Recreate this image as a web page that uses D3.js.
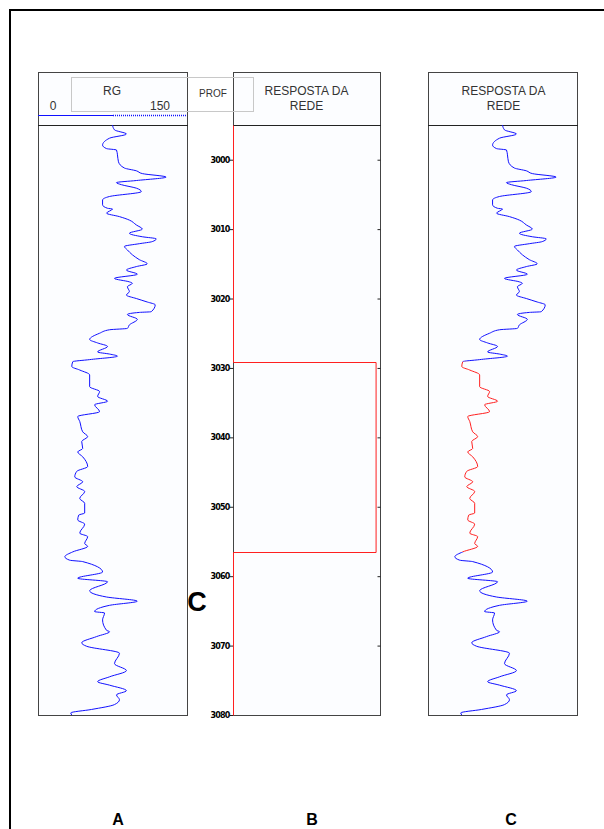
<!DOCTYPE html>
<html>
<head>
<meta charset="utf-8">
<script src="https://cdn.jsdelivr.net/npm/d3@7"></script>
<style>
  body { margin: 0; background: #fff; }
  svg { display: block; }
</style>
</head>
<body>
<svg id="chart" width="604" height="829"></svg>
<script>
// depth ticks (m)
const depthTicks = [3000, 3010, 3020, 3030, 3040, 3050, 3060, 3070, 3080];

const grDepth = [2995.0, 2995.7, 2996.3, 2996.9, 2997.9, 2998.4, 2998.6, 2999.3, 3000.3, 3001.2,
  3001.6, 3002.0, 3002.5, 3003.0, 3003.3, 3003.6, 3004.1, 3004.6, 3005.3, 3005.8,
  3006.5, 3007.0, 3007.1, 3007.7, 3008.2, 3008.7, 3009.4, 3010.0, 3010.6, 3011.1,
  3011.4, 3011.8, 3012.1, 3012.5, 3013.0, 3013.7, 3014.4, 3015.0, 3015.4, 3015.9,
  3016.5, 3017.1, 3017.6, 3017.8, 3018.3, 3019.0, 3019.5, 3020.0, 3020.5, 3020.9,
  3021.9, 3022.0, 3022.3, 3023.0, 3023.8, 3024.3, 3024.5, 3025.0, 3025.9, 3026.4,
  3026.9, 3027.7, 3028.0, 3028.3, 3028.8, 3029.1, 3029.8, 3030.3, 3031.0, 3032.7,
  3033.4, 3034.1, 3034.8, 3035.3, 3036.3, 3037.0, 3037.7, 3039.2, 3039.9, 3040.6,
  3041.6, 3042.1, 3042.8, 3044.2, 3044.9, 3045.7, 3046.4, 3047.1, 3047.8, 3048.8,
  3049.5, 3050.9, 3051.2, 3051.9, 3052.5, 3053.8, 3054.3, 3055.3, 3055.7, 3056.5,
  3057.2, 3057.7, 3057.9, 3059.4, 3060.3, 3060.8, 3062.1, 3063.0, 3063.6, 3064.2,
  3065.1, 3065.3, 3066.3, 3067.8, 3068.0, 3068.7, 3069.6, 3070.1, 3071.1, 3072.6,
  3073.6, 3074.5, 3075.2, 3075.7, 3076.5, 3077.1, 3077.8, 3078.5, 3079.2, 3079.7,
  3080.0];
const grValues = [75, 77, 89, 72, 65, 69, 79, 80, 81, 87,
  99, 105, 129, 99, 79, 84, 99, 104, 72, 65,
  65, 70, 75, 69, 82, 92, 99, 105, 92, 105,
  119, 115, 102, 87, 90, 95, 102, 110, 99, 89,
  100, 77, 92, 95, 90, 92, 89, 99, 110, 118,
  114, 102, 90, 100, 92, 90, 72, 62, 52, 60,
  70, 60, 72, 80, 52, 35, 34, 42, 52, 52,
  62, 60, 70, 57, 62, 40, 42, 45, 50, 44,
  45, 40, 45, 50, 39, 37, 45, 39, 47, 42,
  47, 47, 41, 40, 47, 42, 50, 47, 50, 35,
  27, 32, 45, 65, 40, 70, 52, 69, 100, 72,
  57, 67, 65, 69, 72, 59, 44, 49, 82, 77,
  89, 72, 60, 72, 89, 79, 82, 77, 54, 33,
  34];

// network response (track B), step values
const respDepth = [2995, 3029.1, 3056.5, 3080];
const respValues = [0, 0.97, 0, 0];

// zone flagged by the network
const zoneTop = 3029.1;
const zoneBottom = 3056.5;

function getConfig() {
  let svg = d3.select("#chart");
  let top = 72, head = 125, bottom = 715;
  let y = d3.scaleLinear().domain([2995, 3080]).range([head, bottom]);
  let tracks = {
    A: {x0: 38, x1: 187},
    B: {x0: 233, x1: 380},
    C: {x0: 428, x1: 577}
  };
  return {svg, top, head, bottom, y, tracks};
}

function drawFrame(config, t) {
  let {svg, top, head, bottom} = config;
  svg.append("rect")
    .attr("x", t.x0 + 0.5).attr("y", top + 0.5)
    .attr("width", t.x1 - t.x0).attr("height", bottom - top)
    .attr("fill", "#fcfdff")
    .attr("stroke", "#444");
  svg.append("line")
    .attr("x1", t.x0).attr("x2", t.x1 + 1)
    .attr("y1", head + 0.5).attr("y2", head + 0.5)
    .attr("stroke", "#222");
}

function headerText(svg, cx, lines) {
  lines.forEach((s, i) => {
    svg.append("text")
      .attr("x", cx).attr("y", 95 + i * 15)
      .attr("text-anchor", "middle")
      .attr("font-family", "Liberation Sans, Arial, sans-serif")
      .attr("font-size", 12)
      .attr("fill", "#333")
      .text(s);
  });
}

function drawLog(config, t, zone) {
  let {svg, y} = config;
  let x = d3.scaleLinear().domain([0, 150]).range([t.x0, t.x1]);
  let pts = grDepth.map((d, i) => [grValues[i], d]);
  let line = d3.line().curve(d3.curveMonotoneY).x(d => x(d[0])).y(d => y(d[1]));
  let path = svg.append("path")
    .attr("d", line(pts))
    .attr("fill", "none")
    .attr("stroke", "#1010ff")
    .attr("stroke-width", 1);
  if (zone) {
    path.attr("clip-path", `url(#${zone}-out)`);
    svg.append("path")
      .attr("d", line(pts))
      .attr("fill", "none")
      .attr("stroke", "#ff2020")
      .attr("stroke-width", 1)
      .attr("clip-path", `url(#${zone}-in)`);
  }
  return x;
}

function drawChart() {
  let config = getConfig();
  let {svg, y, tracks} = config;

  // outer border
  svg.append("path")
    .attr("d", "M10,829V10H604")
    .attr("fill", "none")
    .attr("stroke", "#000")
    .attr("stroke-width", 2);

  Object.values(tracks).forEach(t => drawFrame(config, t));

  // RG header
  svg.append("rect")
    .attr("x", 71.5).attr("y", 77.5).attr("width", 182).attr("height", 34)
    .attr("fill", "none").attr("stroke", "#c8c8c8");
  headerText(svg, 112, ["RG"]);
  svg.append("text").attr("x", 53).attr("y", 110).attr("text-anchor", "middle")
    .attr("font-family", "Liberation Sans, Arial, sans-serif").attr("font-size", 12)
    .attr("fill", "#333").text("0");
  svg.append("text").attr("x", 160).attr("y", 110).attr("text-anchor", "middle")
    .attr("font-family", "Liberation Sans, Arial, sans-serif").attr("font-size", 12)
    .attr("fill", "#333").text("150");
  svg.append("line").attr("x1", 38).attr("x2", 113).attr("y1", 115.5).attr("y2", 115.5)
    .attr("stroke", "#1010ff");
  svg.append("line").attr("x1", 113).attr("x2", 187).attr("y1", 115.5).attr("y2", 115.5)
    .attr("stroke", "#1010ff").attr("stroke-width", 1.5).attr("stroke-dasharray", "1,1");
  svg.append("text").attr("x", 213).attr("y", 97).attr("text-anchor", "middle")
    .attr("font-family", "Liberation Sans, Arial, sans-serif").attr("font-size", 10)
    .attr("fill", "#333").text("PROF");

  headerText(svg, (tracks.B.x0 + tracks.B.x1) / 2, ["RESPOSTA DA", "REDE"]);
  headerText(svg, (tracks.C.x0 + tracks.C.x1) / 2 + 1, ["RESPOSTA DA", "REDE"]);

  // track A
  drawLog(config, tracks.A);

  // track C, zone in red
  let c = tracks.C;
  let defs = svg.append("defs");
  defs.append("clipPath").attr("id", "zone-in")
    .append("rect")
    .attr("x", c.x0).attr("width", c.x1 - c.x0)
    .attr("y", y(zoneTop)).attr("height", y(zoneBottom) - y(zoneTop));
  let out = defs.append("clipPath").attr("id", "zone-out");
  out.append("rect")
    .attr("x", c.x0).attr("width", c.x1 - c.x0)
    .attr("y", y.range()[0]).attr("height", y(zoneTop) - y.range()[0]);
  out.append("rect")
    .attr("x", c.x0).attr("width", c.x1 - c.x0)
    .attr("y", y(zoneBottom)).attr("height", y.range()[1] - y(zoneBottom));
  drawLog(config, c, "zone");

  // depth axis (left of track B)
  let axisL = d3.axisLeft(y).tickValues(depthTicks).tickSize(4).tickPadding(0)
    .tickFormat(d3.format("d"));
  let gL = svg.append("g").attr("transform", `translate(${tracks.B.x0 + 0.5},0)`).call(axisL);
  gL.select(".domain").remove();
  gL.selectAll("line").attr("stroke", "#222");
  gL.selectAll("text")
    .attr("font-family", "DejaVu Sans, sans-serif")
    .attr("font-weight", "bold")
    .attr("letter-spacing", -0.8)
    .attr("font-size", 8)
    .attr("fill", "#000");

  let axisR = d3.axisLeft(y).tickValues(depthTicks.slice(0, -1)).tickSize(3).tickFormat("");
  let gR = svg.append("g").attr("transform", `translate(${tracks.B.x1 + 0.5},0)`).call(axisR);
  gR.select(".domain").remove();
  gR.selectAll("line").attr("stroke", "#222");

  // network response
  let xr = d3.scaleLinear().domain([0, 1]).range([tracks.B.x0, tracks.B.x1]);
  let resp = respDepth.map((d, i) => [respValues[i], d]);
  svg.append("path")
    .attr("d", d3.line().curve(d3.curveStepBefore)
      .x(d => xr(d[0]) + 0.5).y(d => Math.round(y(d[1])) + 0.5)(resp))
    .attr("fill", "none")
    .attr("stroke", "#ff2020")
    .attr("stroke-width", 1);

  // labels
  svg.append("text").attr("x", 197).attr("y", 611).attr("text-anchor", "middle")
    .attr("font-family", "Liberation Sans, Arial, sans-serif").attr("font-weight", "bold")
    .attr("font-size", 27).attr("fill", "#000").text("C");
  [["A", 118], ["B", 312], ["C", 511]].forEach(([s, cx]) => {
    svg.append("text").attr("x", cx).attr("y", 825).attr("text-anchor", "middle")
      .attr("font-family", "Liberation Sans, Arial, sans-serif").attr("font-weight", "bold")
      .attr("font-size", 16).attr("fill", "#000").text(s);
  });
}

drawChart();
</script>
</body>
</html>
